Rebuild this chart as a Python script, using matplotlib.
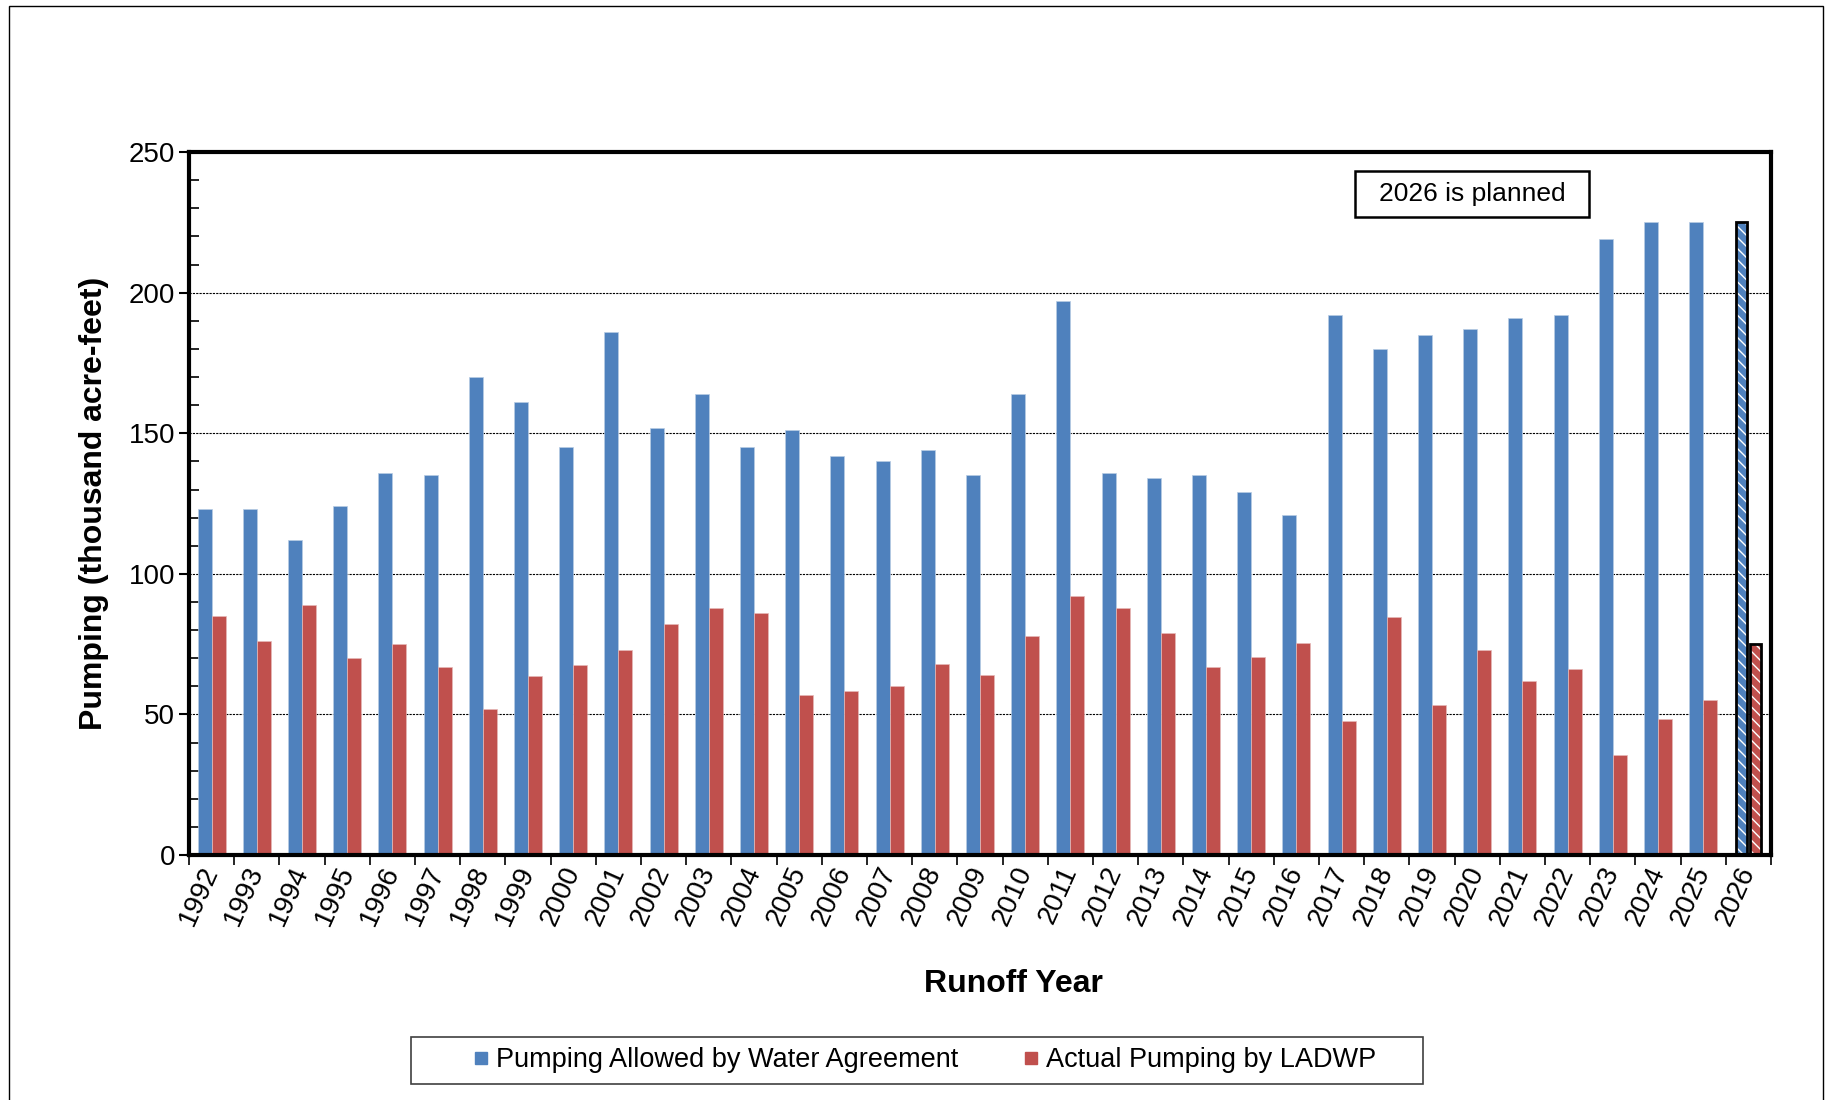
import numpy as np
import matplotlib
matplotlib.use('Agg')
import matplotlib.pyplot as plt
from matplotlib.patches import Rectangle
from matplotlib.lines import Line2D
from matplotlib.ticker import MultipleLocator

plt.rcParams['font.family'] = ['Liberation Sans', 'DejaVu Sans']

years = [str(y) for y in range(1992, 2027)]
allowed = [123, 123, 112, 124, 136, 135, 170, 161, 145, 186, 152, 164, 145, 151,
           142, 140, 144, 135, 164, 197, 136, 134, 135, 129, 121, 192, 180, 185,
           187, 191, 192, 219, 225, 225, 225]
actual = [85, 76, 89, 70, 75, 67, 52, 63.5, 67.5, 73, 82, 88, 86, 57, 58.5, 60,
          68, 64, 78, 92, 88, 79, 67, 70.5, 75.5, 47.5, 84.5, 53.5, 73, 62, 66,
          35.5, 48.5, 55, 75]

blue = '#4F81BD'
red = '#C0504D'

fig = plt.figure(figsize=(18.32, 11), dpi=100)
ax = fig.add_axes([0.1032, 0.2227, 0.8635, 0.639])

x = np.arange(len(years))
w = 0.31
n = len(years) - 1  # last year is planned, drawn hatched

ax.bar(x[:n] - w / 2, allowed[:n], w, color=blue, edgecolor='#b8cce4', linewidth=0.5, zorder=3)
ax.bar(x[:n] + w / 2, actual[:n], w, color=red, edgecolor='#e6b9b8', linewidth=0.5, zorder=3)

# planned year: hatched bars with black outline
wp = 0.26
ax.bar(x[n] - w / 2, allowed[n], wp, color=blue, edgecolor='white', hatch='\\\\\\', linewidth=0, zorder=3)
ax.bar(x[n] + w / 2, actual[n], wp, color=red, edgecolor='white', hatch='\\\\\\', linewidth=0, zorder=3)
ax.bar(x[n] - w / 2, allowed[n], wp, fill=False, edgecolor='black', linewidth=2, zorder=4)
ax.bar(x[n] + w / 2, actual[n], wp, fill=False, edgecolor='black', linewidth=2, zorder=4)

ax.set_xlim(-0.5, len(years) - 0.5)
ax.set_ylim(0, 250)
ax.yaxis.set_major_locator(MultipleLocator(50))
ax.yaxis.set_minor_locator(MultipleLocator(10))
ax.tick_params(axis='y', which='major', direction='out', length=7, width=1.5, labelsize=20, pad=3)
ax.tick_params(axis='y', which='minor', direction='in', length=7, width=1.2)
ax.grid(axis='y', which='major', linestyle=(0, (2, 1)), color='black', linewidth=0.8, zorder=1)

ax.set_xticks(x)
ax.set_xticklabels(years, rotation=66, ha='right', va='center', rotation_mode='anchor', fontsize=20)
ax.set_xticks(np.arange(-0.5, len(years)), minor=True)
ax.tick_params(axis='x', which='major', length=0, pad=9)
ax.tick_params(axis='x', which='minor', direction='out', length=7, width=1.2)

for s in ax.spines.values():
    s.set_linewidth(3)
    s.set_zorder(5)

ax.set_ylabel('Pumping (thousand acre-feet)', fontsize=23, fontweight='bold', labelpad=14)
ax.set_xlabel('Runoff Year', fontsize=23, fontweight='bold', va='center')
ax.xaxis.set_label_coords(0.521, -0.183)

# note box
ax.add_patch(Rectangle((0.737, 0.907), 0.148, 0.066, transform=ax.transAxes,
                       facecolor='white', edgecolor='black', linewidth=1.8, zorder=6))
ax.text(0.811, 0.940, '2026 is planned', transform=ax.transAxes, fontsize=19,
        ha='center', va='center', zorder=7)

# legend with its own box
fig.patches.append(Rectangle((0.2243, 0.0145), 0.5525, 0.0428, transform=fig.transFigure,
                             facecolor='white', edgecolor='#404040', linewidth=1.2))
handles = [Line2D([], [], marker='s', linestyle='none', markersize=9, color=blue),
           Line2D([], [], marker='s', linestyle='none', markersize=9, color=red)]
fig.legend(handles, ['Pumping Allowed by Water Agreement', 'Actual Pumping by LADWP'],
           loc='center', bbox_to_anchor=(0.503, 0.036), ncol=2, fontsize=19.5,
           frameon=False, columnspacing=2.2, handletextpad=0.05, handlelength=1.0)

fig.patches.append(Rectangle((0.005, -0.01), 0.99, 1.005, transform=fig.transFigure,
                             fill=False, edgecolor='black', linewidth=1))

fig.savefig('out.png', dpi=100)
